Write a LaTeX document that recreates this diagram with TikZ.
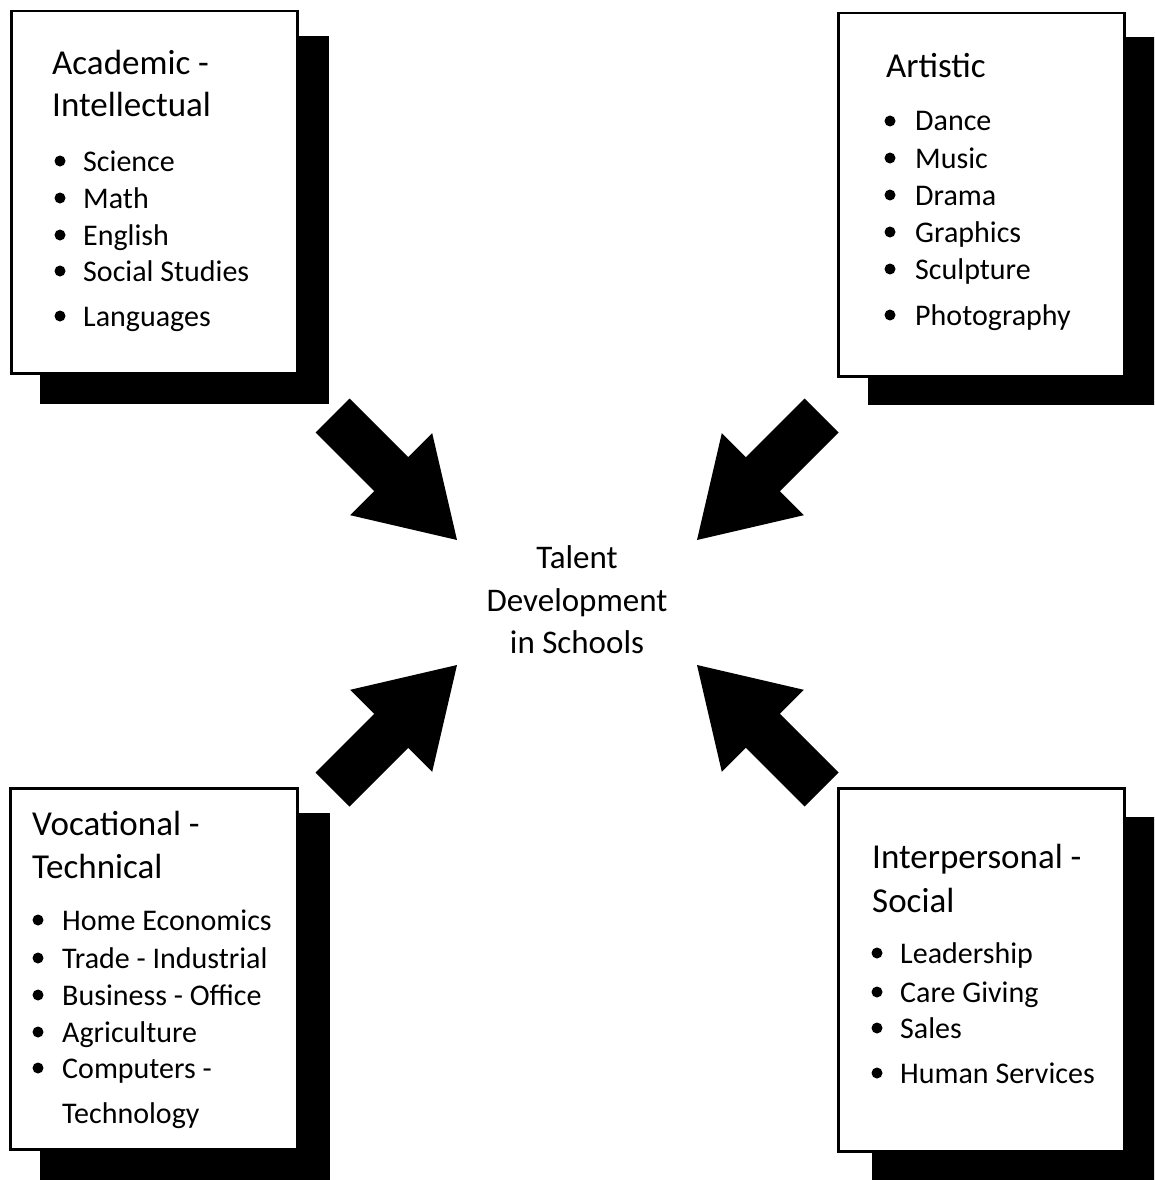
\documentclass[tikz,border=0pt]{standalone}
\usepackage{fontspec}
\setmainfont{Carlito}
\begin{document}
\begin{tikzpicture}[x=1pt,y=-1pt,
  card/.style={draw=black, line width=2.5pt, fill=white, rectangle, inner sep=0pt, anchor=north west},
  shadebox/.style={fill=black, rectangle, inner sep=0pt, anchor=north west},
  headtxt/.style={anchor=base west, inner sep=0pt, font=\fontsize{35}{40}\selectfont},
  itemtxt/.style={anchor=base west, inner sep=0pt, font=\fontsize{30}{36}\selectfont},
  centertxt/.style={anchor=base, inner sep=0pt, font=\fontsize{33}{40}\selectfont},
  dot/.style={circle, fill=black, minimum size=11pt, inner sep=0pt},
  bigarrow/.style={fill=black}
]
\useasboundingbox (0,0) rectangle (1154,1180);
\clip (0,0) rectangle (1154,1180);
\fill[white] (0,0) rectangle (1154,1180);

% shadows
\node[shadebox, minimum width=289pt, minimum height=368pt] (s1) at (40,36) {};
\node[shadebox, minimum width=290pt, minimum height=368pt] (s2) at (868,37) {};
\node[shadebox, minimum width=290pt, minimum height=372pt] (s3) at (40,813) {};
\node[shadebox, minimum width=290pt, minimum height=372pt] (s4) at (872,817) {};

% cards
\node[card, minimum width=286pt, minimum height=362pt] (b1) at (10,10) {};
\node[card, minimum width=286pt, minimum height=363pt] (b2) at (837,12) {};
\node[card, minimum width=287pt, minimum height=361pt] (b3) at (9,787) {};
\node[card, minimum width=286pt, minimum height=363pt] (b4) at (837,787) {};

% box 1
\node[headtxt] (h1a) at (52,75) {Academic -};
\node[headtxt] (h1b) at (52,117) {Intellectual};
\foreach \y/\t [count=\i] in {171/Science, 208/Math, 245/English, 281/Social Studies, 326/Languages}{
  \node[dot] (d1\i) at (60,\y-10) {};
  \node[itemtxt] (i1\i) at (83,\y) {\t};
}

% box 2
\node[headtxt] (h2a) at (886,78) {Artistic};
\foreach \y/\t [count=\i] in {131/Dance, 168/Music, 205/Drama, 242/Graphics, 279/Sculpture, 325/Photography}{
  \node[dot] (d2\i) at (890,\y-10) {};
  \node[itemtxt] (i2\i) at (915,\y) {\t};
}

% box 3
\node[headtxt] (h3a) at (32,835) {Vocational -};
\node[headtxt] (h3b) at (32,878) {Technical};
\foreach \y/\t [count=\i] in {930/Home Economics, 968/Trade - Industrial, 1005/Business - Office, 1042/Agriculture, 1078/Computers -}{
  \node[dot] (d3\i) at (38,\y-10) {};
  \node[itemtxt] (i3\i) at (62,\y) {\t};
}
\node[itemtxt] (i36) at (62,1123) {Technology};

% box 4
\node[headtxt] (h4a) at (872,868) {Interpersonal -};
\node[headtxt] (h4b) at (872,912) {Social};
\foreach \y/\t [count=\i] in {963/Leadership, 1002/Care Giving, 1038/Sales, 1083/Human Services}{
  \node[dot] (d4\i) at (877,\y-10) {};
  \node[itemtxt] (i4\i) at (900,\y) {\t};
}

% center text
\node[centertxt] (c1) at (577,568) {Talent};
\node[centertxt] (c2) at (577,611) {Development};
\node[centertxt] (c3) at (577,653) {in Schools};

% arrows
\fill[bigarrow] (349.5,398.5) -- (408.2,457.2) -- (432.2,433.2) -- (457,540) -- (350.2,515.2) -- (374.2,491.2) -- (315.5,432.5) -- cycle;
\fill[bigarrow] (804.5,398.5) -- (745.8,457.2) -- (721.8,433.2) -- (697,540) -- (803.8,515.2) -- (779.8,491.2) -- (838.5,432.5) -- cycle;
\fill[bigarrow] (349.5,806.5) -- (408.2,747.8) -- (432.2,771.8) -- (457,665) -- (350.2,689.8) -- (374.2,713.8) -- (315.5,772.5) -- cycle;
\fill[bigarrow] (804.5,806.5) -- (745.8,747.8) -- (721.8,771.8) -- (697,665) -- (803.8,689.8) -- (779.8,713.8) -- (838.5,772.5) -- cycle;
\end{tikzpicture}
\end{document}
